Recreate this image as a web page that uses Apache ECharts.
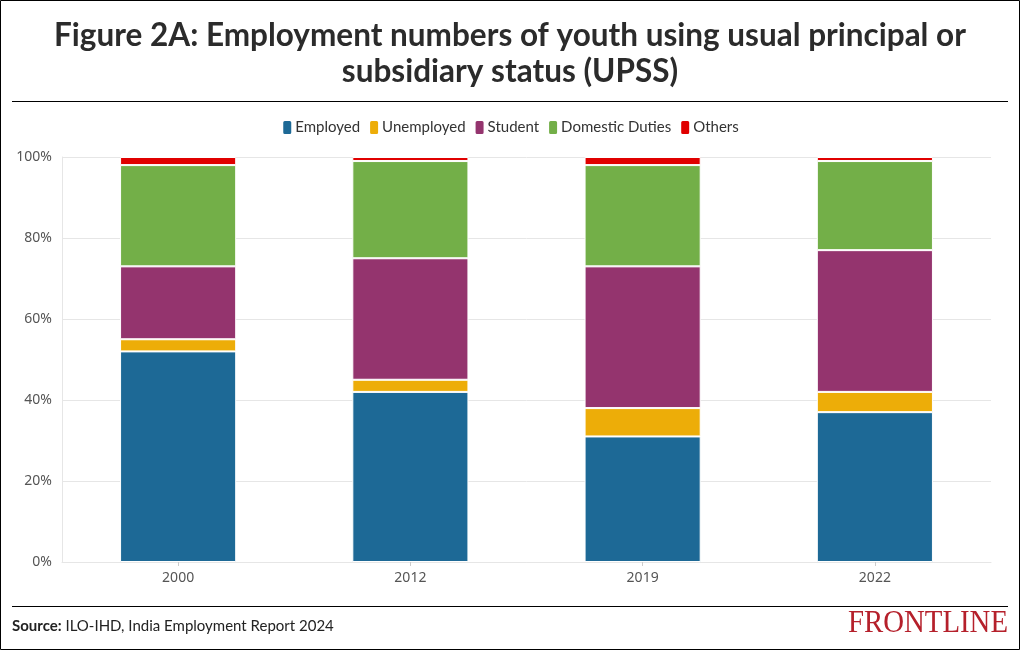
<!DOCTYPE html>
<html><head><meta charset="utf-8">
<script src="https://cdn.jsdelivr.net/npm/echarts@6/dist/echarts.min.js"></script>
<style>html,body{margin:0;padding:0;background:#fff}#c{width:1020px;height:650px}</style>
</head><body><div id="c"></div>
<script>
const categories = ['2000', '2012', '2019', '2022'];
const employed = [52, 42, 31, 37];
const unemployed = [3, 3, 7, 5];
const student = [18, 30, 35, 35];
const domesticDuties = [25, 24, 25, 22];
const others = [2, 1, 2, 1];
const yTicks = [0, 20, 40, 60, 80, 100];

const names = ['Employed', 'Unemployed', 'Student', 'Domestic Duties', 'Others'];
const colors = ['#1d6996', '#edad08', '#94346e', '#73af48', '#e00000'];
const datasets = [employed, unemployed, student, domesticDuties, others];

const chart = echarts.init(document.getElementById('c'), null, {renderer: 'canvas'});
chart.setOption({
  animation: false,
  legend: {
    top: 114, left: 'center', itemWidth: 10, itemHeight: 15, itemGap: 8,
    icon: 'roundRect',
    textStyle: {fontFamily: 'Lato', fontSize: 15, color: '#333', padding: [0,0,0,-2]},
    data: names
  },
  grid: {left: 62, right: 29, top: 157, bottom: 88},
  xAxis: {
    type: 'category', data: categories,
    axisLine: {lineStyle: {color: '#e6e6e6'}},
    axisTick: {show: true, alignWithLabel: true, length: 4, lineStyle: {color: '#ccc'}},
    axisLabel: {fontFamily: 'Noto Sans', fontSize: 14, color: '#555', margin: 9}
  },
  yAxis: {
    type: 'value', min: 0, max: 100, interval: 20,
    axisLine: {show: true, lineStyle: {color: '#e6e6e6'}},
    splitLine: {lineStyle: {color: '#e6e6e6'}},
    axisLabel: {formatter: v => yTicks.includes(v) ? v + '%' : '', fontFamily: 'Noto Sans', fontSize: 14, color: '#555', margin: 10}
  },
  series: names.map((n, i) => ({
    name: n, type: 'bar', stack: 'total', barWidth: '50%',
    data: datasets[i],
    itemStyle: {color: colors[i], borderColor: '#fff', borderWidth: 1}
  })),
  graphic: [
    {type: 'rect', shape: {x: 0.5, y: 0.5, width: 1019, height: 649}, style: {fill: 'none', stroke: '#000', lineWidth: 1}, silent: true},
    {type: 'text', x: 510, y: 18, style: {
      text: 'Figure 2A: Employment numbers of youth using usual principal or\nsubsidiary status (UPSS)',
      align: 'center', fontFamily: 'Lato', fontWeight: 'bold', fontSize: 31.5, lineHeight: 36, fill: '#2b2b2b'}},
    {type: 'line', shape: {x1: 12, y1: 101.5, x2: 1008, y2: 101.5}, style: {stroke: '#000', lineWidth: 1}},
    {type: 'line', shape: {x1: 12, y1: 606.5, x2: 1008, y2: 606.5}, style: {stroke: '#000', lineWidth: 1}},
    {type: 'text', x: 12, y: 619, style: {
      text: '{b|Source:} ILO-IHD, India Employment Report 2024',
      rich: {b: {fontFamily: 'Lato', fontWeight: 'bold', fontSize: 15, fill: '#222'}},
      fontFamily: 'Lato', fontSize: 15, fill: '#222'}},
    {type: 'text', x: 1008, y: 608, scaleX: 0.9, style: {
      text: 'FRONTLINE', align: 'right', fontFamily: 'Liberation Serif', fontSize: 32, fill: '#b5202b'}}
  ]
});
</script></body></html>
